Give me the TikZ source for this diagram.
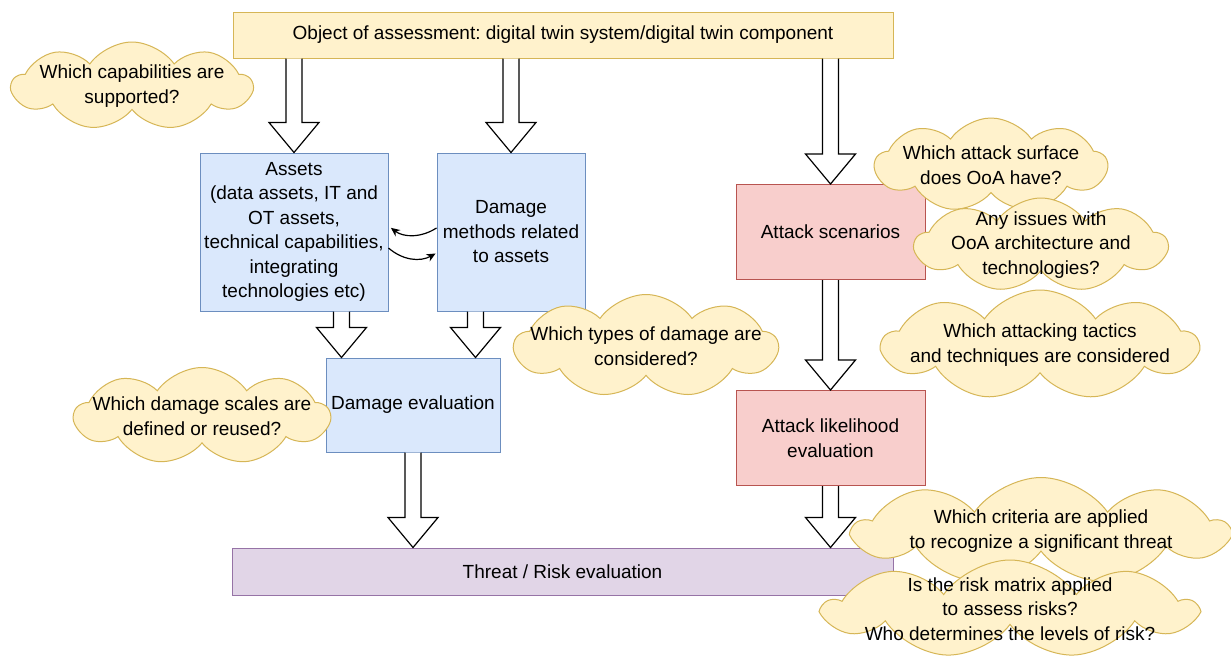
\documentclass[tikz,border=0pt]{standalone}
\usepackage{fontspec}
\setmainfont{Liberation Sans}
\usetikzlibrary{shapes.symbols,arrows.meta,calc}
\frenchspacing

\definecolor{noteyellow}{HTML}{FFF2CC}
\definecolor{noteedge}{HTML}{D6B656}
\definecolor{assetblue}{HTML}{DAE8FC}
\definecolor{assetedge}{HTML}{6C8EBF}
\definecolor{attackred}{HTML}{F8CECC}
\definecolor{attackedge}{HTML}{B85450}
\definecolor{riskpurple}{HTML}{E1D5E7}
\definecolor{riskedge}{HTML}{9673A6}

\tikzset{
  box/.style={draw, line width=1pt, align=center, inner sep=0pt},
  yellowbox/.style={box, fill=noteyellow, draw=noteedge},
  bluebox/.style={box, fill=assetblue, draw=assetedge},
  redbox/.style={box, fill=attackred, draw=attackedge},
  purplebox/.style={box, fill=riskpurple, draw=riskedge},
  question/.style={cloud, cloud puffs=9, cloud puff arc=110, cloud ignores aspect,
    draw=noteedge, fill=noteyellow, line width=1pt, align=center,
    inner xsep=-70pt, inner ysep=-30pt},
  hollow/.style={draw=black, fill=white, line width=1.2pt, line join=miter},
  swap/.style={-{Stealth[length=9pt,width=8pt]}, line width=1.2pt}
}

% fat outlined arrow from #1 down to the tip #2
\newcommand{\hollowarrow}[2]{%
  \path (#1) coordinate (ha-top) (#2) coordinate (ha-tip);
  \filldraw[hollow] ($(ha-top)+(-8,0)$) -- ($(ha-tip)+(-8,-30)$) -- ($(ha-tip)+(-25,-30)$)
    -- (ha-tip) -- ($(ha-tip)+(25,-30)$) -- ($(ha-tip)+(8,-30)$) -- ($(ha-top)+(8,0)$);}

\begin{document}
\begin{tikzpicture}[x=1pt,y=-1pt,font=\fontsize{19}{24.5}\selectfont]
\useasboundingbox[fill=white] (0,0) rectangle (1231,664);

% boxes
\node[yellowbox, minimum width=660, minimum height=46] (ooa) at (563,35)
  {Object of assessment: digital twin system/digital twin component};
\node[bluebox, minimum width=188, minimum height=158] (assets) at (294,232)
  {Assets\\(data assets, IT and\\OT assets,\\technical capabilities,\\integrating\\technologies etc)};
\node[bluebox, minimum width=148, minimum height=158] (dmeth) at (511,232)
  {Damage\\methods related\\to assets};
\node[bluebox, minimum width=174, minimum height=94] (dameval) at (413,405) {Damage evaluation};
\node[redbox, minimum width=189, minimum height=95] (scen) at (830.5,232) {Attack scenarios};
\node[redbox, minimum width=189, minimum height=95] (likely) at (830.5,438)
  {Attack likelihood\\evaluation};
\node[purplebox, minimum width=661, minimum height=47] (risk) at (562.5,571.5)
  {Threat / Risk evaluation};

% block arrows
\coordinate (ev-a) at ($(dameval.north west)+(16,0)$);
\coordinate (ev-b) at ($(dameval.north east)+(-25,0)$);
\hollowarrow{ooa.south -| assets.north}{assets.north}
\hollowarrow{ooa.south -| dmeth.north}{dmeth.north}
\hollowarrow{ooa.south -| scen.north}{scen.north}
\hollowarrow{assets.south -| ev-a}{ev-a}
\hollowarrow{dmeth.south -| ev-b}{ev-b}
\hollowarrow{dameval.south}{risk.north -| dameval.south}
\hollowarrow{scen.south}{likely.north}
\hollowarrow{likely.south}{risk.north -| likely.south}

% assets <-> damage methods
\draw[swap, shorten >=3pt] ([yshift=4pt]dmeth.west) to[bend left=35] ([yshift=6pt]assets.east);
\draw[swap, shorten >=1pt] ([yshift=-16pt]assets.east) to[bend right=35] ([yshift=-21pt]dmeth.west);

% questions
\node[question, minimum width=240, minimum height=88] (q-cap) at (132,86)
  {Which capabilities are\\supported?};
\node[question, minimum width=255, minimum height=97] (q-scale) at (202,416)
  {Which damage scales are\\defined or reused?};
\node[question, minimum width=263, minimum height=103] (q-dtype) at (646,346)
  {Which types of damage are\\considered?};
\node[question, minimum width=232, minimum height=94] (q-surf) at (991,165)
  {Which attack surface\\does OoA have?};
\node[question, minimum width=252, minimum height=94] (q-arch) at (1041,245)
  {Any issues with\\OoA architecture and\\technologies?};
\node[question, minimum width=315, minimum height=110] (q-tact) at (1040,345)
  {Which attacking tactics\\and techniques are considered};
\node[question, minimum width=373, minimum height=107] (q-crit) at (1041,531)
  {Which criteria are applied\\to recognize a significant threat};
\node[question, minimum width=370, minimum height=98] (q-risk) at (1010,609)
  {Is the risk matrix applied\\to assess risks?\\Who determines the levels of risk?};
\end{tikzpicture}
\end{document}
